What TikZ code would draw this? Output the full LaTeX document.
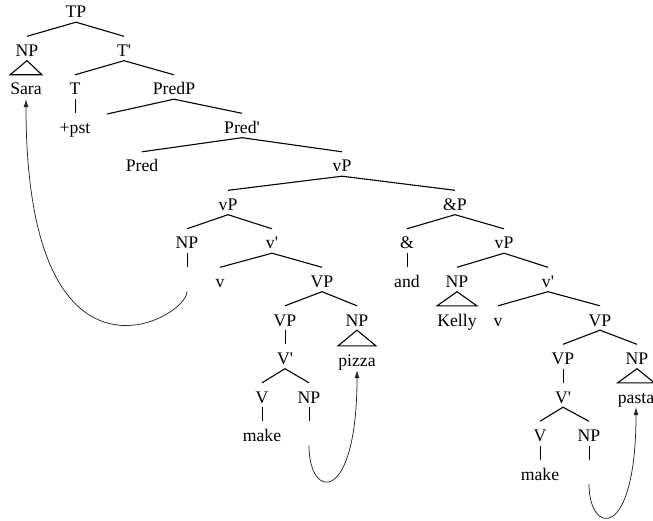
\documentclass[tikz,border=0pt]{standalone}
\usepackage{fontspec}
\setmainfont{Liberation Serif}
\usetikzlibrary{arrows.meta}
\newcommand{\qmark}{\textquotesingle}
\begin{document}
\begin{tikzpicture}[x=1pt,y=-1pt,
  lbl/.style={inner xsep=0pt,inner ysep=0pt,text height=20pt,text depth=4pt,
    font=\fontsize{17.7}{20}\selectfont},
  branch/.style={line width=1.1pt,black},
  unary/.style={line width=0.8pt,black},
  movearrow/.style={line width=0.75pt,black!85,-{Latex[length=8pt,width=5pt]}}]
\useasboundingbox (0,0) rectangle (653,521);

% ---- nodes (x, level) ----
\node[lbl] (TP)    at (76,10)    {TP};
\node[lbl] (NPs)   at (27,48.5)  {NP};
\node[lbl] (Tbar)  at (124,48.5) {T\qmark};
\node[lbl] (Sara)  at (26,87)    {Sara};
\node[lbl] (T)     at (75,87)    {T};
\node[lbl] (PredP) at (174,87)   {PredP};
\node[lbl] (pst)   at (75,125.5) {+pst};
\coordinate (spec) at (107,114);
\node[lbl] (Predbar) at (242,125.5) {Pred\qmark};
\node[lbl] (Pred)  at (142,164)  {Pred};
\node[lbl] (vPtop) at (342,164)  {vP};
\node[lbl] (vPa)   at (228,202.5) {vP};
\node[lbl] (andP)  at (455,202.5) {\&P};
\node[lbl] (NPt1)  at (187,241)  {NP};
\node[lbl] (vbara) at (272,241)  {v\qmark};
\node[lbl] (amp)   at (407,241)  {\&};
\node[lbl] (vPb)   at (504,241)  {vP};
\node[lbl] (t1)    at (187,279.5) {};
\node[lbl] (va)    at (220,279.5) {v};
\node[lbl] (VPa)   at (322,279.5) {VP};
\node[lbl] (and)   at (407,279.5) {and};
\node[lbl] (NPk)   at (457,279.5) {NP};
\node[lbl] (vbarb) at (548,279.5) {v\qmark};
\node[lbl] (VPa1)  at (285,318)  {VP};
\node[lbl] (NPpz)  at (357,318)  {NP};
\node[lbl] (Kelly) at (457,318)  {Kelly};
\node[lbl] (vb)    at (498,318)  {v};
\node[lbl] (VPb)   at (600,318)  {VP};
\node[lbl] (Vbara) at (285,356.5) {V\qmark};
\node[lbl] (pizza) at (357,358)  {pizza};
\node[lbl] (VPb1)  at (563,356.5) {VP};
\node[lbl] (NPps)  at (637,356.5) {NP};
\node[lbl] (Va)    at (262,395)  {V};
\node[lbl] (NPt2)  at (309,395)  {NP};
\node[lbl] (Vbarb) at (563,395)  {V\qmark};
\node[lbl] (pasta) at (636,395)  {pasta};
\node[lbl] (makea) at (262,433.5) {make};
\node[lbl] (t2)    at (309,433.5) {};
\node[lbl] (Vb)    at (540,433.5) {V};
\node[lbl] (NPt3)  at (589,433.5) {NP};
\node[lbl] (makeb) at (540,472)  {make};
\node[lbl] (t3)    at (589,472)  {};

% ---- branches ----
\draw[branch] (NPs.north) -- (TP.south) -- (Tbar.north);
\draw[branch] (T.north) -- (Tbar.south) -- (PredP.north);
\draw[branch] (spec) -- (PredP.south) -- (Predbar.north);
\draw[branch] (Pred.north) -- (Predbar.south) -- (vPtop.north);
\draw[branch] (vPa.north) -- (vPtop.south) -- (andP.north);
\draw[branch] (NPt1.north) -- (vPa.south) -- (vbara.north);
\draw[branch] (va.north) -- (vbara.south) -- (VPa.north);
\draw[branch] (VPa1.north) -- (VPa.south) -- (NPpz.north);
\draw[branch] (Va.north) -- (Vbara.south) -- (NPt2.north);
\draw[branch] (amp.north) -- (andP.south) -- (vPb.north);
\draw[branch] (NPk.north) -- (vPb.south) -- (vbarb.north);
\draw[branch] (vb.north) -- (vbarb.south) -- (VPb.north);
\draw[branch] (VPb1.north) -- (VPb.south) -- (NPps.north);
\draw[branch] (Vb.north) -- (Vbarb.south) -- (NPt3.north);

% ---- unary branches ----
\draw[unary] (T.south) -- (pst.north);
\draw[unary] (NPt1.south) -- (t1.north);
\draw[unary] (amp.south) -- (and.north);
\draw[unary] (VPa1.south) -- (Vbara.north);
\draw[unary] (Va.south) -- (makea.north);
\draw[unary] (NPt2.south) -- (t2.north);
\draw[unary] (VPb1.south) -- (Vbarb.north);
\draw[unary] (Vb.south) -- (makeb.north);
\draw[unary] (NPt3.south) -- (t3.north);

% ---- triangles ----
\draw[branch,line join=miter] (NPs.south) -- (Sara.north west) -- (Sara.north east) -- cycle;
\draw[branch,line join=miter] (NPk.south) -- (Kelly.north west) -- (Kelly.north east) -- cycle;
\draw[branch,line join=miter] (NPpz.south) -- (pizza.north west) -- (pizza.north east) -- cycle;
\draw[branch,line join=miter] (NPps.south) -- (pasta.north west) -- (pasta.north east) -- cycle;

% ---- movement arrows ----
\draw[movearrow] (t1.south) .. controls +(0,27) and +(0,310) .. (Sara.south);
\draw[movearrow] (t2.south) .. controls +(0,55) and +(0,135) .. (pizza.south);
\draw[movearrow] (t3.south) .. controls +(0,51) and +(0,135) .. (pasta.south);
\end{tikzpicture}
\end{document}
